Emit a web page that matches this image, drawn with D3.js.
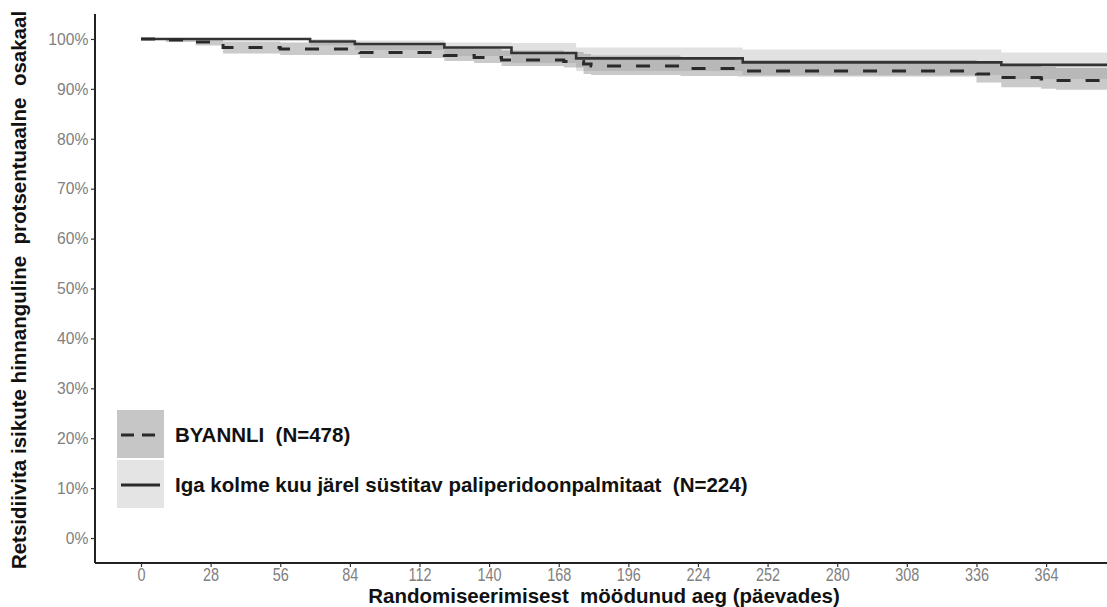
<!DOCTYPE html>
<html>
<head>
<meta charset="utf-8">
<script src="https://cdn.jsdelivr.net/npm/d3@7"></script>
<style>
  body { margin: 0; background: #fff; }
  text { font-family: "Liberation Sans", Arial, sans-serif; }
</style>
</head>
<body>
<div class="content"></div>
<script>
const width = 1107
const height = 607

// BYANNLI (N=478): step times (days), KM estimate, lower / upper CI
const byDays = [0, 10, 22, 33, 56, 88, 122, 134, 145, 170, 178, 181, 217, 240, 336, 346, 362, 368, 389]
const byEst = [1, 0.998, 0.994, 0.983, 0.980, 0.973, 0.967, 0.963, 0.958, 0.955, 0.950, 0.946, 0.941, 0.936, 0.930, 0.923, 0.920, 0.917, 0.917]
const byLow = [1, 0.994, 0.987, 0.971, 0.968, 0.962, 0.956, 0.952, 0.946, 0.943, 0.930, 0.928, 0.926, 0.925, 0.913, 0.903, 0.900, 0.898, 0.898]
const byHigh = [1, 1, 1, 0.995, 0.993, 0.988, 0.984, 0.981, 0.977, 0.974, 0.970, 0.967, 0.962, 0.958, 0.952, 0.946, 0.944, 0.942, 0.942]

// paliperidone every 3 months (N=224)
const ppDays = [0, 68, 86, 122, 149, 175, 242, 346, 389]
const ppEst = [1, 0.995, 0.990, 0.983, 0.972, 0.961, 0.953, 0.948, 0.948]
const ppLow = [1, 0.987, 0.978, 0.966, 0.952, 0.936, 0.928, 0.920, 0.920]
const ppHigh = [1, 1, 0.997, 0.993, 0.992, 0.983, 0.979, 0.973, 0.973]

const xTicks = [0, 28, 56, 84, 112, 140, 168, 196, 224, 252, 280, 308, 336, 364]
const yTicks = [0, 0.1, 0.2, 0.3, 0.4, 0.5, 0.6, 0.7, 0.8, 0.9, 1]

const legendLabels = ['BYANNLI  (N=478)', 'Iga kolme kuu järel süstitav paliperidoonpalmitaat  (N=224)']

const plotLeft = 95
const plotTop = 14
const plotBottom = 563

const x = d3.scaleLinear().domain([-18.5, 388.5]).range([plotLeft, width])
const y = d3.scaleLinear().domain([-0.05, 1.05]).range([plotBottom, plotTop])

const svg = d3.select('div.content')
  .append('svg')
  .attr('width', width)
  .attr('height', height)

function rows(days, est, low, high) {
  return days.map((d, i) => ({ t: d, s: est[i], lo: low[i], hi: high[i] }))
}
const byData = rows(byDays, byEst, byLow, byHigh)
const ppData = rows(ppDays, ppEst, ppLow, ppHigh)

const area = d3.area()
  .curve(d3.curveStepAfter)
  .x(d => x(d.t))
  .y0(d => y(d.lo))
  .y1(d => y(d.hi))
const line = d3.line()
  .curve(d3.curveStepAfter)
  .x(d => x(d.t))
  .y(d => y(d.s))

// confidence bands
svg.append('path')
  .datum(ppData)
  .attr('d', area)
  .attr('fill', '#b4b4b4')
  .attr('fill-opacity', 0.4)
svg.append('path')
  .datum(byData)
  .attr('d', area)
  .attr('fill', '#7a7a7a')
  .attr('fill-opacity', 0.4)

// curves
svg.append('path')
  .datum(ppData)
  .attr('d', line)
  .attr('fill', 'none')
  .attr('stroke', '#333')
  .attr('stroke-width', 2.6)
svg.append('path')
  .datum(byData)
  .attr('d', line)
  .attr('fill', 'none')
  .attr('stroke', '#2a2a2a')
  .attr('stroke-width', 3)
  .attr('stroke-dasharray', '14,15')

// axes
const yAxis = svg.append('g')
  .attr('transform', `translate(${plotLeft},0)`)
  .call(d3.axisLeft(y).tickValues(yTicks).tickSize(4).tickFormat(d3.format('.0%')))
const xAxis = svg.append('g')
  .attr('transform', `translate(0,${plotBottom})`)
  .call(d3.axisBottom(x).tickValues(xTicks).tickSize(4))

yAxis.select('.domain').attr('d', `M0,${plotTop}V${plotBottom}`).attr('stroke', '#222').attr('stroke-width', 2)
xAxis.select('.domain').attr('d', `M${plotLeft},0H${width}`).attr('stroke', '#222').attr('stroke-width', 2)
svg.selectAll('.tick line').attr('stroke', '#333').attr('stroke-width', 1.2)
yAxis.selectAll('.tick text')
  .attr('fill', '#808080')
  .attr('font-size', 16.5)
  .attr('x', -7)
  .attr('transform', 'scale(0.95,1)')
xAxis.selectAll('.tick text')
  .attr('fill', '#808080')
  .attr('font-size', 19)
  .attr('y', 5)
  .attr('transform', 'scale(0.76,1)')

// axis titles
svg.append('text')
  .attr('x', 604)
  .attr('y', 603)
  .attr('text-anchor', 'middle')
  .attr('font-size', 20.5)
  .attr('font-weight', 'bold')
  .attr('fill', '#111')
  .style('white-space', 'pre')
  .text('Randomiseerimisest  möödunud aeg (päevades)')
svg.append('text')
  .attr('transform', 'translate(26,290) rotate(-90)')
  .attr('text-anchor', 'middle')
  .attr('font-size', 20.5)
  .attr('font-weight', 'bold')
  .attr('fill', '#111')
  .style('white-space', 'pre')
  .text('Retsidiivita isikute hinnanguline  protsentuaalne  osakaal')

// legend
const legend = svg.append('g').attr('transform', 'translate(117,410)')
const keyFill = ['#c6c6c6', '#e4e4e4']
legendLabels.forEach((lab, i) => {
  const g = legend.append('g').attr('transform', `translate(0,${i * 50})`)
  g.append('rect')
    .attr('width', 47)
    .attr('height', 48)
    .attr('fill', keyFill[i])
  g.append('line')
    .attr('x1', 4)
    .attr('x2', 43)
    .attr('y1', 25)
    .attr('y2', 25)
    .attr('stroke', '#2a2a2a')
    .attr('stroke-width', 3)
    .attr('stroke-dasharray', i === 0 ? '13,8' : null)
  g.append('text')
    .attr('x', 58)
    .attr('y', 32)
    .attr('font-size', 20.5)
    .attr('font-weight', 'bold')
    .attr('fill', '#111')
    .style('white-space', 'pre')
    .text(lab)
})
</script>
</body>
</html>
